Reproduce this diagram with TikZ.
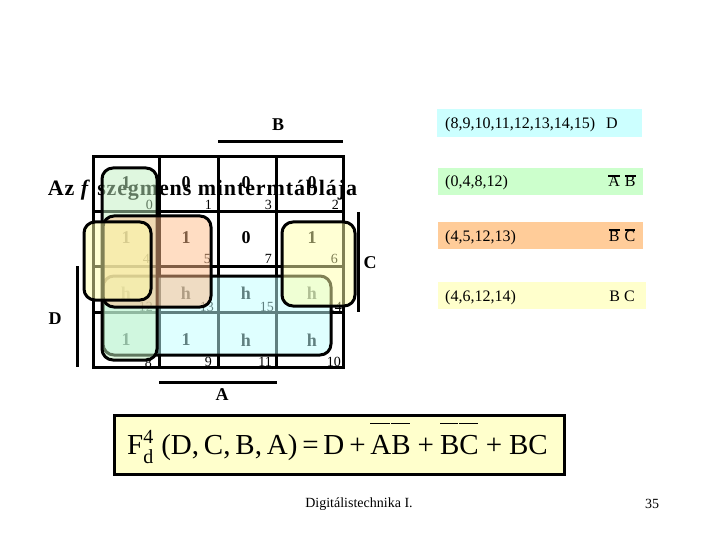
\documentclass[tikz,border=0pt]{standalone}
\usepackage{amsmath}
\usepackage{fontspec}
\setmainfont{Liberation Serif}
\usepackage{tikz}
\usetikzlibrary{positioning}
\definecolor{loopcyan}{HTML}{C0FFFF}
\definecolor{loopgreen}{HTML}{C0F0C0}
\definecolor{looporange}{HTML}{FFBB88}
\definecolor{loopyellow}{HTML}{FFFFAA}
\definecolor{rowcyan}{HTML}{CCFFFF}
\definecolor{rowgreen}{HTML}{CCFFCC}
\definecolor{roworange}{HTML}{FFCC99}
\definecolor{rowyellow}{HTML}{FFFFCC}
\newcommand{\barred}[1]{\setbox0\hbox{#1}\rlap{\raisebox{\dimexpr\ht0-0.3pt}{\rule{\wd0}{2pt}}}\box0}
\newcommand{\thinbar}[1]{\setbox0\hbox{#1}\rlap{\raisebox{30pt}{\rule{\dimexpr\wd0-1pt}{1pt}}}\box0}

\begin{document}
\begin{tikzpicture}[x=1pt, y=-1pt, inner sep=0pt]
        \tikzstyle{heavy} = [line width=3pt, draw=black]
        \tikzstyle{val} = [font=\bfseries\fontsize{18}{18}\selectfont]
        \tikzstyle{idx} = [font=\fontsize{14}{14}\selectfont, anchor=east]
        \tikzstyle{axis} = [font=\bfseries\fontsize{18}{18}\selectfont]
        \tikzstyle{grp} = [draw=black, line width=3pt, rounded corners=11pt, fill opacity=0.5, rectangle]
        \tikzstyle{band} = [rectangle, minimum width=205pt, minimum height=27.5pt]
        \tikzstyle{small} = [font=\fontsize{16}{16}\selectfont]
        \tikzstyle{foot} = [font=\fontsize{14}{14}\selectfont]

        \useasboundingbox (0,0) rectangle (720,540);

        % --- tabla ---
        \draw [heavy] (93,157) rectangle (343,367);
        \draw [heavy] (159,157) -- (159,367);
        \draw [heavy] (218,157) -- (218,367);
        \draw [heavy] (276,157) -- (276,367);
        \draw [heavy] (93,212) -- (343,212);
        \draw [heavy] (93,266) -- (343,266);
        \draw [heavy] (93,312) -- (343,312);

        % --- cimkek a tabla korul ---
        \draw [heavy] (218,142) -- (343,142);
        \draw [heavy] (358,212) -- (358,312);
        \draw [heavy] (77,266) -- (77,367);
        \draw [heavy] (159,382) -- (277,382);
        \node [axis] (lab_b) at (278,125) {B};
        \node [axis] (lab_c) at (370,263) {C};
        \node [axis] (lab_d) at (55,319) {D};
        \node [axis] (lab_a) at (222,395) {A};

        % --- cellak ---
        \foreach \name/\val/\px/\py in {0/1/126/183, 1/0/186/183, 3/0/246/183, 2/0/312/183,
                4/1/126/238, 5/1/186/238, 7/0/246/238, 6/1/312/238,
                12/h/126/293, 13/h/186/293, 15/h/246/293, 14/h/312/293,
                8/1/126/340, 9/1/186/340, 11/h/246/340, 10/h/312/340}
            \node [val] (cell\name) at (\px,\py) {\val};
        \foreach \name/\px/\py in {0/153/205, 1/212/205, 3/272/205, 2/339/205,
                4/150/259, 5/211/259, 7/272/259, 6/338/259,
                12/153/307, 13/214/307, 15/274/307, 14/342/307,
                8/152/363, 9/212/362, 11/272/362, 10/341/362}
            \node [idx] (idx\name) at (\px,\py) {\name};

        % --- cim ---
        \node [anchor=base, font=\bfseries\fontsize{22}{22}\selectfont\addfontfeature{LetterSpace=4}] (title) at (202.5,196) {Az \textit{f} szegmens mintermtáblája};

        % --- hurkok ---
        \node [grp, fill=loopcyan, minimum width=228pt, minimum height=79pt] (loop_d) at (217,315.5) {};
        \node [grp, fill=loopgreen, minimum width=55pt, minimum height=192pt] (loop_ab) at (129.5,264) {};
        \node [grp, fill=looporange, minimum width=108pt, minimum height=91pt] (loop_bc) at (157,261.5) {};
        \node [grp, fill=loopyellow, minimum width=67pt, minimum height=78pt] (loop_y1) at (117.5,261) {};
        \node [grp, fill=loopyellow, minimum width=73pt, minimum height=84pt] (loop_y2) at (318.5,264) {};

        % --- jobb oldali savok ---
        \node [band, fill=rowcyan] (row_d) at (539.5,123) {};
        \node [band, fill=rowgreen] (row_ab) at (540.5,181.5) {};
        \node [band, fill=roworange] (row_bc) at (540,235.5) {};
        \node [band, fill=rowyellow, minimum width=208pt] (row_y) at (542,295.5) {};
        \node [small, anchor=base west] (txt_d) at (445,128.5) {(8,9,10,11,12,13,14,15)};
        \node [small, anchor=base west] (txt_ab) at (445,187) {(0,4,8,12)};
        \node [small, anchor=base west] (txt_bc) at (445,241) {(4,5,12,13)};
        \node [small, anchor=base west] (txt_y) at (445,301) {(4,6,12,14)};
        \node [small, anchor=base] (term_d) at (612,128.5) {D};
        \node [small, anchor=base] (term_ab) at (622,187) {\barred{A}\hspace{1pt} \barred{B}};
        \node [small, anchor=base] (term_bc) at (622,241) {\barred{B}\hspace{1pt} \barred{C}};
        \node [small, anchor=base] (term_y) at (622,301) {B C};

        % --- keplet ---
        \node [draw=black, line width=3pt, fill=rowyellow, minimum width=450pt, minimum height=59pt, rectangle] (formula) at (339,444.5) {};
        \node [anchor=base west, font=\fontsize{29}{29}\selectfont] (formula_txt) at (127,454)
            {F\rlap{\raisebox{11pt}{\fontsize{20}{20}\selectfont 4}}\raisebox{-9pt}{\fontsize{20}{20}\selectfont d}\hspace{8pt}(D,\,C,\,B,\,A)\,=\,D\,+\,\thinbar{A}\thinbar{B}\hspace{7pt}+\hspace{6pt}\thinbar{B}\thinbar{C}\hspace{7pt}+\hspace{7pt}BC};

        % --- lablec ---
        \node [foot] (footer) at (359,504) {Digitálistechnika I.};
        \node [foot] (pagenum) at (652,504) {35};

    \end{tikzpicture}
\end{document}
